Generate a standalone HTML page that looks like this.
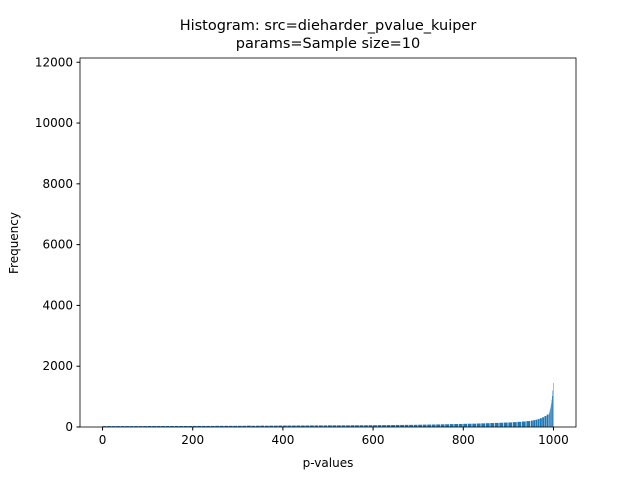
<!DOCTYPE html>
<html><head><meta charset="utf-8"><style>
body{margin:0;background:#fff;font-family:"DejaVu Sans","Liberation Sans",sans-serif;}
</style></head><body>
<svg id="chart" width="640" height="480" xmlns="http://www.w3.org/2000/svg" font-family="DejaVu Sans, Liberation Sans, sans-serif">
<rect width="640" height="480" fill="#fff"/>
<text x="328" y="30" text-anchor="middle" font-size="14.5">Histogram: src=dieharder_pvalue_kuiper</text>
<text x="328" y="48" text-anchor="middle" font-size="14.5">params=Sample size=10</text>
<g id="bars"></g>
<g id="axes"></g>
<text x="328" y="467" text-anchor="middle" font-size="12">p-values</text>
<text transform="translate(18,243) rotate(-90)" text-anchor="middle" font-size="12">Frequency</text>
</svg>
<script>
const binStarts = [0,10,20,30,40,50,60,70,80,90,100,110,120,130,140,150,160,170,180,190,200,210,220,230,240,250,260,270,280,290,300,310,320,330,340,350,360,370,380,390,400,410,420,430,440,450,460,470,480,490,500,510,520,530,540,550,560,570,580,590,600,610,620,630,640,650,660,670,680,690,700,710,720,730,740,750,760,770,780,790,800,810,820,830,840,850,860,870,880,890,900,910,920,930,940,950,955,960,965,970,975,980,985,990,991,992,993,994,995,996,997,998,999];
const binWidths = [];
const counts = [30,30,30,30,30,30,30,30,30,30,32,32,32,32,32,33,33,33,33,33,35,35,35,35,35,38,38,38,38,38,40,40,45,40,42,45,42,45,45,48,48,48,48,50,50,50,52,52,52,52,55,55,55,55,55,58,58,58,58,60,60,62,62,65,65,68,68,70,70,72,75,78,80,82,85,88,90,95,98,100,105,108,110,115,120,125,130,135,140,145,150,160,170,180,195,210,225,240,260,290,320,360,410,450,500,560,620,700,780,900,1020,1200,1450];
const yTicks = [0,2000,4000,6000,8000,10000,12000];
const xTicks = [0,200,400,600,800,1000];
for(let i=0;i<binStarts.length;i++){binWidths.push((i<binStarts.length-1?binStarts[i+1]:1000)-binStarts[i]);}
const L=80,R=576,T=58,B=427;
const xs=v=>L+(v+50)/1100*(R-L);
const ys=v=>B-v/12140*(B-T);
const NS="http://www.w3.org/2000/svg";
const bars=document.getElementById('bars');
for(let i=0;i<counts.length;i++){
  const r=document.createElementNS(NS,'rect');
  const x0=xs(binStarts[i]), x1=xs(binStarts[i]+binWidths[i]);
  r.setAttribute('x',x0);r.setAttribute('width',Math.max(0.45,(x1-x0)*0.85));
  r.setAttribute('y',ys(counts[i]));r.setAttribute('height',B-ys(counts[i]));
  r.setAttribute('fill','#1f77b4');
  
  
  bars.appendChild(r);
}
const ax=document.getElementById('axes');
const fr=document.createElementNS(NS,'rect');
fr.setAttribute('x',L);fr.setAttribute('y',T);fr.setAttribute('width',R-L);fr.setAttribute('height',B-T);
fr.setAttribute('fill','none');fr.setAttribute('stroke','#000');fr.setAttribute('stroke-width','0.8');


ax.appendChild(fr);
yTicks.forEach(v=>{
  const y=ys(v);
  const l=document.createElementNS(NS,'line');
  l.setAttribute('x1',L-3.5);l.setAttribute('x2',L);l.setAttribute('y1',y);l.setAttribute('y2',y);l.setAttribute('stroke','#000');
  
  
  ax.appendChild(l);
  const t=document.createElementNS(NS,'text');
  t.setAttribute('x',L-7);t.setAttribute('y',y+4);t.setAttribute('text-anchor','end');t.setAttribute('font-size','12');
  t.textContent=v;
  
  
  ax.appendChild(t);
});
xTicks.forEach(v=>{
  const x=xs(v);
  const l=document.createElementNS(NS,'line');
  l.setAttribute('x1',x);l.setAttribute('x2',x);l.setAttribute('y1',B);l.setAttribute('y2',B+3.5);l.setAttribute('stroke','#000');
  
  
  ax.appendChild(l);
  const t=document.createElementNS(NS,'text');
  t.setAttribute('x',x);t.setAttribute('y',B+17);t.setAttribute('text-anchor','middle');t.setAttribute('font-size','12');
  t.textContent=v;
  
  
  ax.appendChild(t);
});
</script>
</body></html>
